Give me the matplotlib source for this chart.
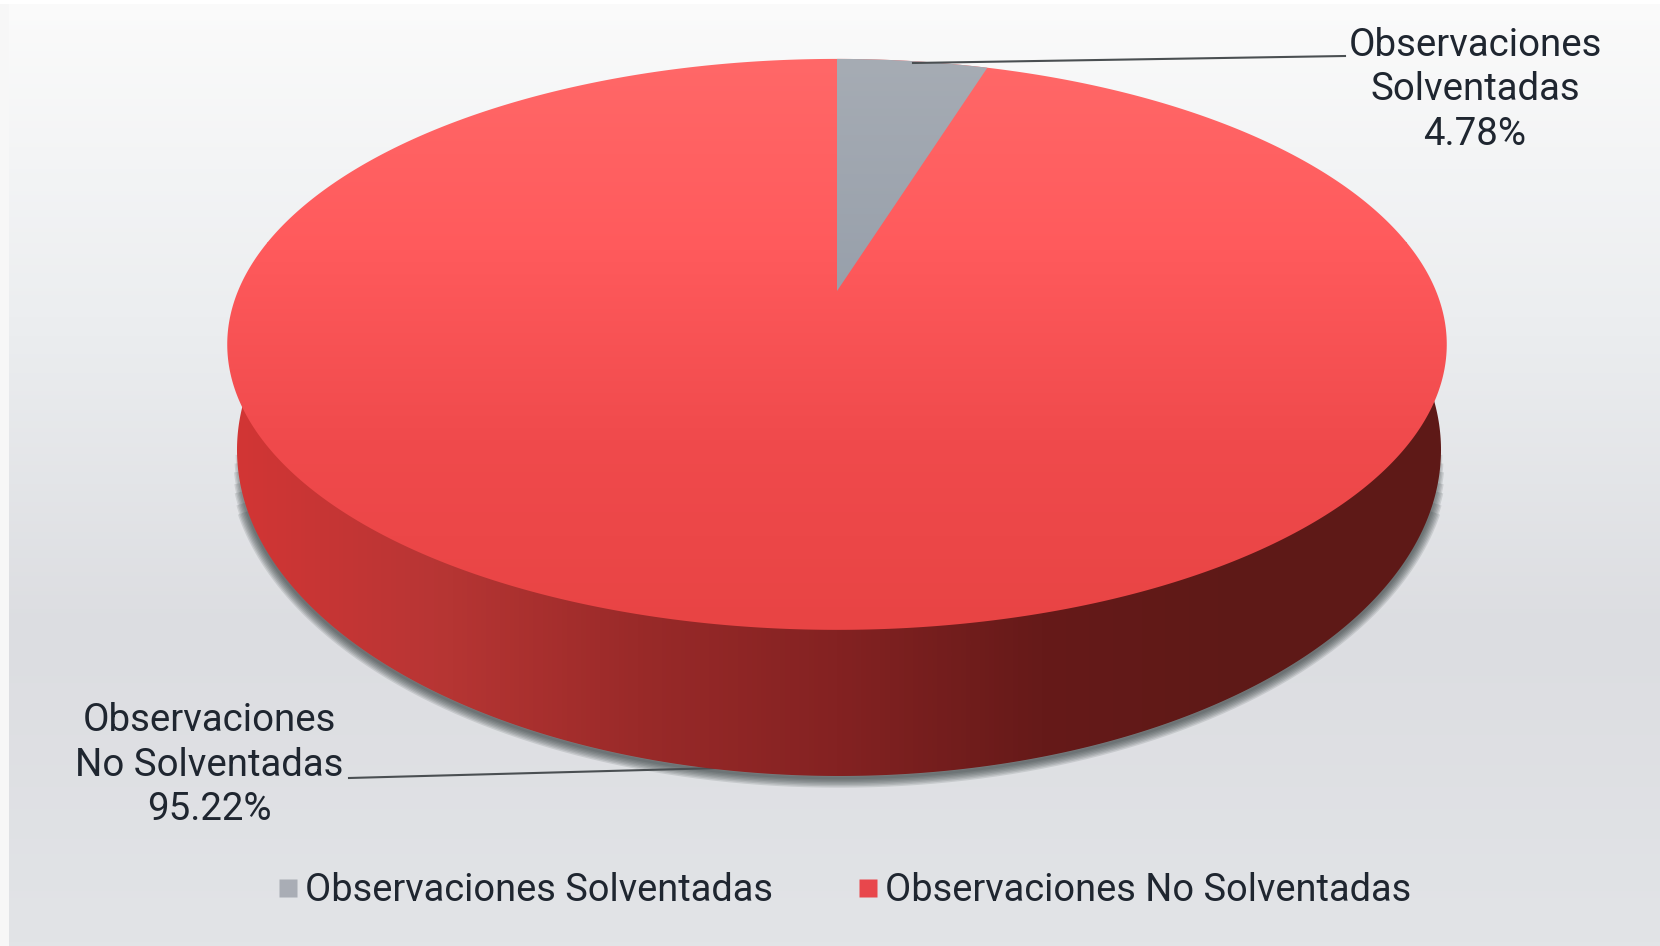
"""3D-look pie chart: observaciones solventadas vs no solventadas."""

import matplotlib
matplotlib.use("Agg")
import matplotlib.pyplot as plt
import numpy as np
from matplotlib.colors import LinearSegmentedColormap
from matplotlib.patches import Polygon, Rectangle

plt.rcParams["font.family"] = ["Roboto", "DejaVu Sans"]

CATEGORIES = ["Observaciones Solventadas", "Observaciones No Solventadas"]
VALUES = [4.78, 95.22]
LABEL_TEXTS = ["Observaciones\nSolventadas\n4.78%", "Observaciones\nNo Solventadas\n95.22%"]
LEGEND_COLORS = ["#a9adb5", "#e8474c"]

W, H = 1660, 946
CX = 837
APEX_Y = 291
TILT = 0.187      # perspective strength
Y_SCALE = 275.5
X_SCALE = 599
# lower rim of the side wall
RIM_CX, RIM_CY, RIM_RX, RIM_RY = 839, 450, 602, 326


def project(theta):
    """Disc angle (clockwise from 12 o'clock) -> pixel position, with perspective."""
    u, v = np.sin(theta), np.cos(theta)
    w = 1 + TILT * v
    return CX + X_SCALE * u / w, APEX_Y - Y_SCALE * v / w


def gradient(ax, colors, extent, clip, horizontal=False, zorder=2):
    cmap = LinearSegmentedColormap.from_list("g", colors)
    g = np.linspace(0, 1, 256)
    g = g[None, :] if horizontal else g[:, None]
    im = ax.imshow(g, cmap=cmap, extent=extent, aspect="auto", zorder=zorder,
                   interpolation="bilinear", vmin=0, vmax=1)
    im.set_clip_path(clip)
    return im


fig = plt.figure(figsize=(W / 100, H / 100), dpi=100)
ax = fig.add_axes([0, 0, 1, 1])

# background
bg = LinearSegmentedColormap.from_list("bg", ["#fbfbfb", "#eceef0", "#dcdde1", "#e2e4e7"])
ax.imshow(np.linspace(0, 1, 256)[:, None], cmap=bg, extent=(0, W, H, 0),
          aspect="auto", zorder=0)
ax.add_patch(Rectangle((0, 0), 9, H, color="#f7f7f7", lw=0, zorder=1))
ax.add_patch(Rectangle((0, 0), W, 4, color="#ffffff", lw=0, zorder=1))

theta = np.linspace(0, 2 * np.pi, 721)
top_x, top_y = project(theta)
bot_x = RIM_CX + RIM_RX * np.sin(theta)
bot_y = RIM_CY - RIM_RY * np.cos(theta)

# soft shadow under the side wall, wider strokes stop earlier so the ends taper
for i, lw in enumerate([2, 4, 6, 8, 10, 12, 14]):
    trim = 0.03 * i
    front = (theta > np.pi / 2 + trim) & (theta < 3 * np.pi / 2 - trim)
    ax.plot(bot_x[front], bot_y[front] + 2, color="#2c3636", alpha=0.13, lw=lw, zorder=2,
            solid_capstyle="butt")

# side wall
half = (theta >= np.pi / 2 - 0.19) & (theta <= 3 * np.pi / 2 + 0.19)
side_pts = np.vstack([
    np.column_stack([top_x[half], top_y[half]])[[0]],
    np.column_stack([bot_x[half], bot_y[half]]),
    np.column_stack([top_x[half], top_y[half]])[[-1]],
])
side = Polygon(side_pts, closed=True, fc="none", ec="none", transform=ax.transData)
ax.add_patch(side)
side_colors = ["#d33535", "#b83634", "#9a2a29", "#842222", "#661a19", "#5e1917", "#5e1917"]
gradient(ax, side_colors, (227, 1447, H, 0), side, horizontal=True, zorder=3)

# top face
face = Polygon(np.column_stack([top_x, top_y]), closed=True, fc="none", ec="none",
               transform=ax.transData)
ax.add_patch(face)
gradient(ax, ["#ff6868", "#ff5a5c", "#f04a4c", "#e84444"], (227, 1447, 632, 59), face, zorder=4)

# slices from the values
shares = np.array(VALUES) / np.sum(VALUES)
end = 2 * np.pi * shares[0]
arc = np.linspace(0, end, 40)
arc_x, arc_y = project(arc)
slice_pts = np.vstack([[CX, APEX_Y], np.column_stack([arc_x, arc_y])])
grey = Polygon(slice_pts, closed=True, fc="none", ec="none", transform=ax.transData)
ax.add_patch(grey)
gradient(ax, ["#a6acb4", "#98a0ab"], (CX, 990, 292, 58), grey, zorder=5)

# leader lines
ax.plot([913, 1345], [63, 56], color="#4a4f52", lw=1.5, zorder=6)
ax.plot([349, 720], [778, 768], color="#4a4f52", lw=1.5, zorder=2.5)

text_color = "#1f2630"
ax.text(1475, 90, LABEL_TEXTS[0], ha="center", va="center", fontsize=27.6, color=text_color,
        linespacing=1.27, zorder=7)
ax.text(209, 765, LABEL_TEXTS[1], ha="center", va="center", fontsize=27.6, color=text_color,
        linespacing=1.27, zorder=7)

# legend
handles = [plt.Line2D([], [], ls="", marker="s", ms=13, mec="none", mfc=c) for c in LEGEND_COLORS]
ax.legend(handles, CATEGORIES, loc="center", bbox_to_anchor=(0.506, 0.0585), ncol=2, frameon=False,
          fontsize=27.4, labelcolor=text_color, handletextpad=-0.05, columnspacing=2.0,
          handlelength=1.0, borderpad=0)

ax.set_xlim(0, W)
ax.set_ylim(H, 0)
ax.axis("off")
fig.savefig("out.png", dpi=100)
